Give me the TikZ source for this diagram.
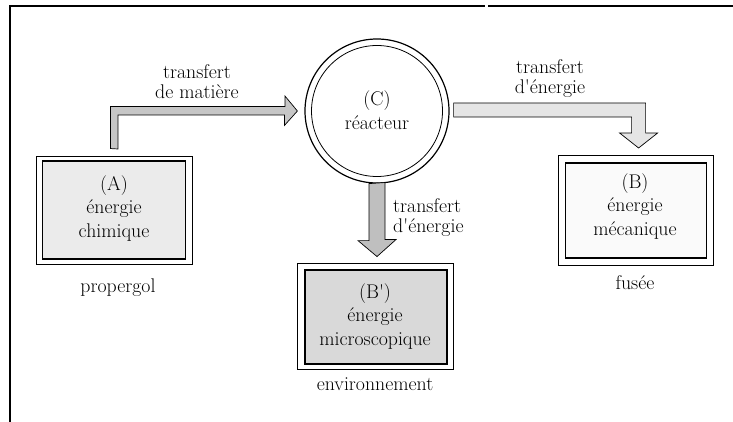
\documentclass[tikz,border=0pt]{standalone}
\begin{document}
\begin{tikzpicture}[x=1pt,y=-1pt,
  outerbox/.style={draw, line width=0.9pt, fill=white, inner sep=0pt},
  innerbox/.style={draw, line width=1.2pt, inner sep=0pt},
  ring/.style={draw, circle, inner sep=0pt},
  boxtxt/.style={font=\fontsize{19.8}{23.5}\selectfont, align=center, inner sep=0pt},
  lbl/.style={font=\fontsize{19.8}{20}\selectfont, align=center, inner sep=0pt},
  blockarrow/.style={draw, line width=0.7pt, line join=miter},
]
\useasboundingbox (0,0) rectangle (733,422);
% frame
\draw[line width=1.4pt] (10,422) -- (10,6) -- (485,6);
\draw[line width=1.4pt] (488,6) -- (733,6);

% boxes
\node[outerbox, minimum width=156, minimum height=108] (A) at (114,210) {};
\node[innerbox, fill=gray!16, minimum width=143, minimum height=98] (Ai) at (114,210) {};
\node[boxtxt] (At) at (114,208.5) {(A)\\énergie\\chimique};
\node[lbl] (Al) at (118,288) {propergol};

\node[outerbox, minimum width=155, minimum height=110] (B) at (635.5,210) {};
\node[innerbox, fill=gray!4, minimum width=141, minimum height=95] (Bi) at (636,210.5) {};
\node[boxtxt] (Bt) at (635,206.5) {(B)\\énergie\\mécanique};
\node[lbl] (Bl) at (635,283) {fusée};

\node[outerbox, minimum width=156, minimum height=106] (Bp) at (375,316) {};
\node[innerbox, fill=gray!30, minimum width=142, minimum height=94] (Bpi) at (376,317) {};
\node[boxtxt] (Bpt) at (375,316.5) {(B\textquotesingle)\\énergie\\microscopique};
\node[lbl] (Bpl) at (375,384) {environnement};

% reactor
\node[ring, line width=1.2pt, minimum size=144] (C) at (377,111) {};
\node[ring, line width=0.8pt, minimum size=131] (Ci) at (377,111) {};
\node[boxtxt] (Ct) at (377,110) {(C)\\réacteur};

% block arrows
\draw[blockarrow, fill=gray!45] ([shift={(-3.5pt,7pt)}]A.north)
  -- ++(0,-42) -- ++(174.5,0) -- ++(0,-10.5) -- ([xshift=-7pt]C.west)
  -- ++(-13,14.5) -- ++(0,-10.5) -- ++(-166.5,0) -- ++(0,34) -- cycle;
\node[lbl] (L1) at (197,81.5) {transfert\\de matière};

\draw[blockarrow, fill=gray!20] ([shift={(4pt,8pt)}]C.east)
  -- ++(192,0) -- ++(0,30) -- ++(12,0) -- ++(-19,15) -- ++(-19,-15)
  -- ++(12,0) -- ++(0,-16) -- ++(-178,0) -- cycle;
\node[lbl] (L2) at (550,79) {transfert\\d\textquotesingle énergie};

\draw[blockarrow, fill=gray!50] ([xshift=-8pt]C.south)
  -- ++(0,57) -- ++(-11,0) -- ([yshift=6pt]C.south |- Bp.north)
  -- ++(19,-17) -- ++(-11,0) -- ++(0,-57) -- cycle;
\node[lbl, align=left, anchor=west] (L3) at (393,218) {transfert\\d\textquotesingle énergie};
\end{tikzpicture}
\end{document}
